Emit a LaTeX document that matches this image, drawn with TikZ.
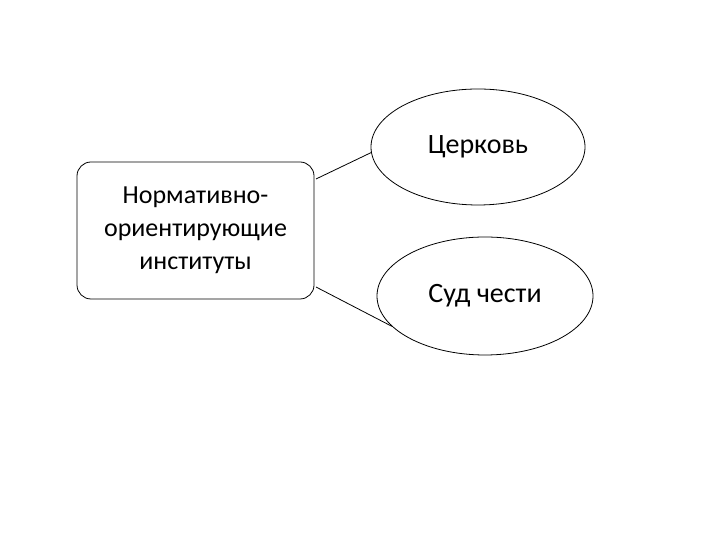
\documentclass[tikz,border=0pt]{standalone}
\usepackage{fontspec}
\setmainfont{Carlito}
\usetikzlibrary{shapes.geometric}
\begin{document}
\begin{tikzpicture}[x=1pt,y=1pt,line width=0.8pt,
  box/.style={draw,rounded corners=14pt,minimum width=237pt,minimum height=137pt,align=center,font=\fontsize{26}{33}\selectfont},
  oval/.style={draw,ellipse,font=\fontsize{28}{32}\selectfont}]
\useasboundingbox (0,0) rectangle (720,540);
\node[box] (n) at (195.5,309.5) {Нормативно-\\ориентирующие\\институты};
\node[oval,minimum width=214pt,minimum height=116pt] (c) at (478,393) {Церковь};
\node[oval,minimum width=216pt,minimum height=118pt] (s) at (485,244) {Суд чести};
\coordinate (a1) at (316,361);
\coordinate (a2) at (316,253);
\draw (a1) -- (c.183);
\draw (a2) -- (s.198);
\end{tikzpicture}
\end{document}
